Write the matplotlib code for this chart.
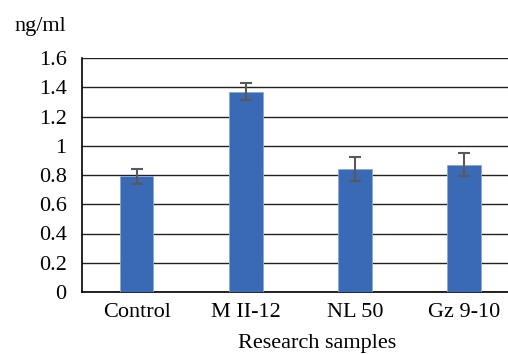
import matplotlib
matplotlib.use("Agg")
import matplotlib.pyplot as plt

# data
samples = ["Control", "M II-12", "NL 50", "Gz 9-10"]
values = [0.79, 1.37, 0.84, 0.87]
errors = [0.05, 0.06, 0.08, 0.078]
yticks = [0, 0.2, 0.4, 0.6, 0.8, 1, 1.2, 1.4, 1.6]
ytick_labels = ["0", "0.2", "0.4", "0.6", "0.8", "1", "1.2", "1.4", "1.6"]

plt.rcParams["font.family"] = ["Liberation Serif", "DejaVu Serif"]
plt.rcParams["font.size"] = 16

fig = plt.figure(figsize=(5.08, 3.54), dpi=100)
ax = fig.add_axes([82 / 508, 62 / 354, 436.5 / 508, 234 / 354])

x = range(len(samples))
ax.bar(x, values, width=0.31, color="#3a6ab5", edgecolor="#8aa8d8", linewidth=0.6,
       yerr=errors, error_kw=dict(ecolor="#595959", elinewidth=1.5, capsize=4, capthick=1.5),
       zorder=3)

ax.set_xlim(-0.5, 3.5)
ax.set_ylim(0, 1.6)
ax.set_yticks(yticks)
ax.set_yticklabels(ytick_labels)
ax.set_xticks(list(x))
ax.set_xticklabels(samples)
ax.tick_params(axis="both", length=0)
ax.tick_params(axis="y", pad=11)
ax.tick_params(axis="x", pad=8)

ax.yaxis.grid(True, color="#222222", linewidth=1.0, zorder=0)
ax.set_axisbelow(True)
for s in ["top", "right"]:
    ax.spines[s].set_visible(False)
ax.spines["left"].set_color("black")
ax.spines["bottom"].set_color("black")
ax.spines["left"].set_linewidth(1.2)
ax.spines["bottom"].set_linewidth(1.2)

ax.set_xlabel("Research samples")
ax.xaxis.set_label_coords((317 - 82) / 436.5, -0.18)
fig.text(14 / 508, 1 - 27 / 354, "ng/ml", ha="left", va="center")

fig.savefig("out.png", dpi=100)
